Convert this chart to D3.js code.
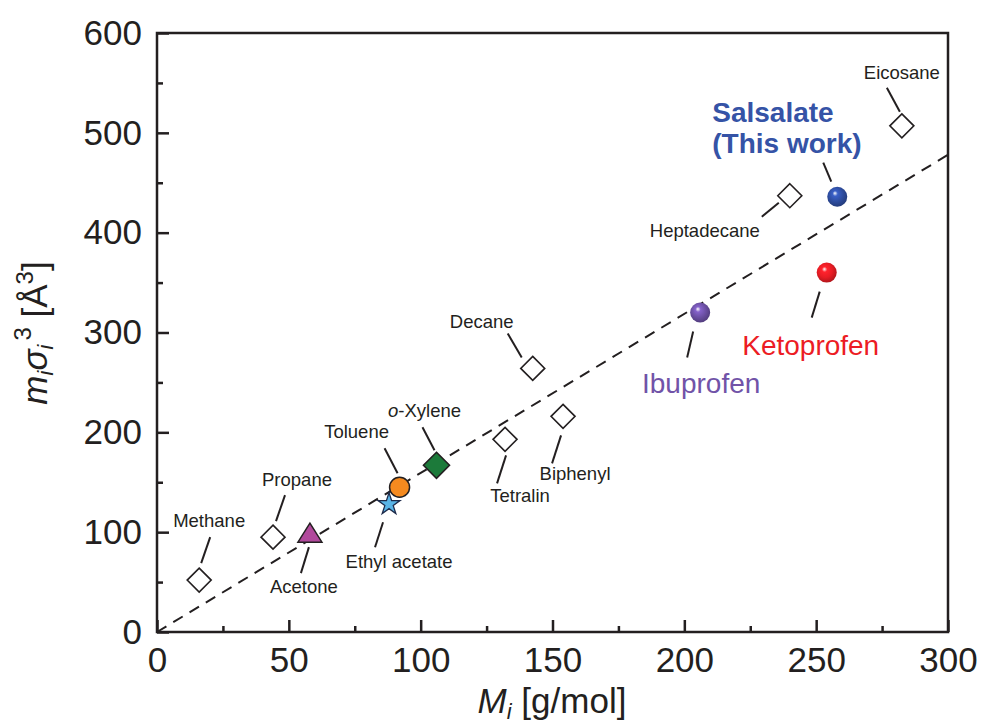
<!DOCTYPE html>
<html>
<head>
<meta charset="utf-8">
<script src="https://cdn.jsdelivr.net/npm/d3@7"></script>
<style>
  body { margin: 0; background: #fff; }
  svg { font-family: "Liberation Sans", Arial, Helvetica, sans-serif; }
</style>
</head>
<body>
<svg id="chart" width="982" height="725"></svg>
<script>
'use strict';

// data
const names = ["Methane", "Propane", "Acetone", "Ethyl acetate", "Toluene", "o-Xylene",
  "Tetralin", "Biphenyl", "Decane", "Ibuprofen", "Ketoprofen", "Heptadecane", "Salsalate", "Eicosane"];
const molarMass = [16, 44, 58, 88, 92, 106, 132, 154, 142.5, 206, 254, 240, 258, 282.5];
const segVolume = [52, 95, 99, 128, 145, 167, 193, 216, 264, 320, 360, 437, 436, 507];
const kinds = ["open", "open", "triangle", "star", "circle", "xylene",
  "open", "open", "open", "ball", "ball", "open", "ball", "open"];
const xTicks = [0, 50, 100, 150, 200, 250, 300];
const yTicks = [0, 100, 200, 300, 400, 500, 600];
const fitLine = [[0, 0], [300, 478]];

// label placement (pixels relative to the marker)
const labelLayout = {
  "Methane":      { l: [2, -17, 11, -43],  t: [10, -53] },
  "Propane":      { l: [3, -16, 12, -42],  t: [24, -51] },
  "Acetone":      { l: [-1, 14, -9, 40],   t: [-6, 60] },
  "Ethyl acetate":{ l: [-6, 18, -14, 43],  t: [10, 64] },
  "Toluene":      { l: [-2, -14, -15, -39], t: [-43, -49] },
  "o-Xylene":     { l: [-2, -15, -14, -38], t: [-12, -48] },
  "Tetralin":     { l: [1, 16, -8, 44],    t: [15, 63] },
  "Biphenyl":     { l: [-2, 19, -11, 47],  t: [12, 64] },
  "Decane":       { l: [-11, -11, -25, -35], t: [-51, -40] },
  "Heptadecane":  { l: [-11, 7, -28, 21],  t: [-85, 41] },
  "Eicosane":     { l: [-2, -14, -15, -38], t: [0, -47] },
  "Salsalate":    { l: [-6, -15, -14, -34] },
  "Ketoprofen":   { l: [-7, 19, -15, 45],  t: [-16, 82] },
  "Ibuprofen":    { l: [-7, 19, -13, 45],  t: [1, 80] }
};
const ballColor = { "Salsalate": "#2e4da0", "Ketoprofen": "#e81c24", "Ibuprofen": "#6b4fa3" };
const textColor = { "Salsalate": "#3553a6", "Ketoprofen": "#ec1c24", "Ibuprofen": "#7153a8" };

const svg = d3.select("#chart");
const plotL = 157, plotR = 948, plotT = 33, plotB = 632;

const x = d3.scaleLinear().domain([0, 300]).range([plotL, plotR]);
const y = d3.scaleLinear().domain([0, 600]).range([plotB, plotT]);

// frame
svg.append("rect")
  .attr("x", plotL).attr("y", plotT)
  .attr("width", plotR - plotL).attr("height", plotB - plotT)
  .attr("fill", "none").attr("stroke", "#231f20").attr("stroke-width", 2.5);

// axes, ticks inward
svg.append("g").attr("transform", `translate(0,${plotB})`)
  .call(d3.axisBottom(x).tickValues(xTicks).tickSize(-12).tickPadding(15));
svg.append("g").attr("transform", `translate(0,${plotB})`)
  .call(d3.axisBottom(x).tickValues(d3.range(25, 300, 50)).tickSize(-6).tickFormat(""));
svg.append("g").attr("transform", `translate(${plotL},0)`)
  .call(d3.axisLeft(y).tickValues(yTicks).tickSize(-12).tickPadding(15));
svg.append("g").attr("transform", `translate(${plotL},0)`)
  .call(d3.axisLeft(y).tickValues(d3.range(50, 600, 100)).tickSize(-6).tickFormat(""));

svg.selectAll(".domain").remove();
svg.selectAll(".tick line").attr("stroke", "#231f20").attr("stroke-width", 2.5);
svg.selectAll(".tick text")
  .attr("font-family", "'Liberation Sans', Arial, sans-serif")
  .attr("font-size", 35).attr("fill", "#231f20");

// axis titles
svg.append("text")
  .attr("x", 552).attr("y", 713).attr("text-anchor", "middle")
  .attr("font-size", 35).attr("fill", "#231f20")
  .html('<tspan font-style="italic">M</tspan><tspan font-style="italic" font-size="22" dy="6">i</tspan><tspan dy="-6"> [g/mol]</tspan>');

svg.append("text")
  .attr("transform", "translate(47,333) rotate(-90)")
  .attr("text-anchor", "middle")
  .attr("font-size", 35).attr("fill", "#231f20")
  .html('<tspan font-style="italic">m</tspan><tspan font-style="italic" font-size="22" dy="6">i</tspan>' +
        '<tspan font-style="italic" dy="-6">σ</tspan><tspan font-style="italic" font-size="22" dy="6">i</tspan>' +
        '<tspan font-size="24" dy="-22" dx="4">3</tspan><tspan dy="16"> [Å</tspan>' +
        '<tspan font-size="24" dy="-14">3</tspan><tspan dy="14">]</tspan>');

// dashed fit line
svg.append("line")
  .attr("x1", x(fitLine[0][0])).attr("y1", y(fitLine[0][1]))
  .attr("x2", x(fitLine[1][0])).attr("y2", y(fitLine[1][1]))
  .attr("stroke", "#231f20").attr("stroke-width", 2)
  .attr("stroke-dasharray", "11,8");

// sphere gradients
const defs = svg.append("defs");
Object.keys(ballColor).forEach((k, i) => {
  const c = d3.color(ballColor[k]);
  const g = defs.append("radialGradient").attr("id", "ball" + i)
    .attr("cx", "0.45").attr("cy", "0.42").attr("r", "0.6")
    .attr("fx", "0.38").attr("fy", "0.32");
  g.append("stop").attr("offset", "0%").attr("stop-color", "#ffffff");
  g.append("stop").attr("offset", "22%").attr("stop-color", c.brighter(0.6));
  g.append("stop").attr("offset", "60%").attr("stop-color", c);
  g.append("stop").attr("offset", "100%").attr("stop-color", c.darker(0.8));
});

const points = names.map((n, i) => ({ name: n, px: x(molarMass[i]), py: y(segVolume[i]), kind: kinds[i] }));

// leader lines
svg.append("g").selectAll("line").data(points).join("line")
  .attr("x1", d => d.px + labelLayout[d.name].l[0])
  .attr("y1", d => d.py + labelLayout[d.name].l[1])
  .attr("x2", d => d.px + labelLayout[d.name].l[2])
  .attr("y2", d => d.py + labelLayout[d.name].l[3])
  .attr("stroke", "#231f20").attr("stroke-width", 2);

// markers
const mk = svg.append("g");
points.forEach(d => {
  const g = mk.append("g").attr("transform", `translate(${d.px},${d.py})`);
  if (d.kind === "open" || d.kind === "xylene") {
    const h = d.kind === "open" ? 12 : 13;
    g.append("path").attr("d", `M0,${-h}L${h},0L0,${h}L${-h},0Z`)
      .attr("fill", d.kind === "open" ? "#fff" : "#1c7a3a")
      .attr("stroke", "#231f20").attr("stroke-width", 1.6);
  } else if (d.kind === "triangle") {
    g.append("path").attr("d", "M0,-10L12,9L-12,9Z")
      .attr("fill", "#b1499c").attr("stroke", "#231f20").attr("stroke-width", 1.5);
  } else if (d.kind === "star") {
    g.append("path").attr("d", d3.symbol(d3.symbolStar, 150)())
      .attr("fill", "#5ab4e6").attr("stroke", "#1d2a4a").attr("stroke-width", 1.3);
  } else if (d.kind === "circle") {
    g.append("circle").attr("r", 10)
      .attr("fill", "#f58a1f").attr("stroke", "#231f20").attr("stroke-width", 1.5);
  } else {
    const idx = Object.keys(ballColor).indexOf(d.name);
    g.append("circle").attr("r", 10).attr("fill", `url(#ball${idx})`);
  }
});

// small black labels
const small = points.filter(d => !ballColor[d.name]);
svg.append("g").selectAll("text").data(small).join("text")
  .attr("x", d => d.px + labelLayout[d.name].t[0])
  .attr("y", d => d.py + labelLayout[d.name].t[1])
  .attr("text-anchor", "middle")
  .attr("font-size", 18.5).attr("fill", "#231f20")
  .each(function (d) {
    const t = d3.select(this);
    if (d.name === "o-Xylene") {
      t.append("tspan").attr("font-style", "italic").text("o");
      t.append("tspan").text("-Xylene");
    } else {
      t.text(d.name);
    }
  });

// coloured drug labels
points.filter(d => d.name === "Ketoprofen" || d.name === "Ibuprofen").forEach(d => {
  svg.append("text")
    .attr("x", d.px + labelLayout[d.name].t[0])
    .attr("y", d.py + labelLayout[d.name].t[1])
    .attr("text-anchor", "middle")
    .attr("font-size", 28).attr("fill", textColor[d.name])
    .text(d.name);
});
const sal = points.find(d => d.name === "Salsalate");
const salText = svg.append("text")
  .attr("font-size", 28).attr("font-weight", "bold").attr("fill", textColor["Salsalate"]);
salText.append("tspan").attr("x", sal.px - 125).attr("y", sal.py - 75).text("Salsalate");
salText.append("tspan").attr("x", sal.px - 125).attr("y", sal.py - 44).text("(This work)");
</script>
</body>
</html>
